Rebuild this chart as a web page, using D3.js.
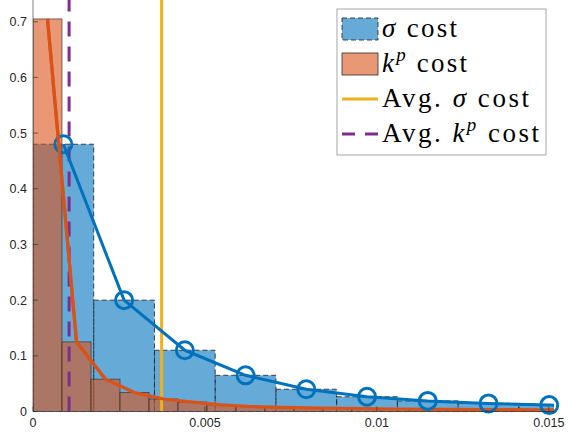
<!DOCTYPE html>
<html>
<head>
<meta charset="utf-8">
<script src="https://cdn.jsdelivr.net/npm/d3@7"></script>
<style>
  html, body { margin: 0; padding: 0; background: #fff; }
  svg { display: block; }
  .tick-label { font-family: "Liberation Sans", Arial, sans-serif; font-size: 12.5px; fill: #262626; }
  .legend-text { font-family: "Liberation Serif", "DejaVu Serif", serif; font-size: 27px; fill: #000; }
</style>
</head>
<body>
<svg id="chart" width="569" height="433"></svg>
<script>
// Histogram data (normalized probability)
const sigmaBinWidth = 0.001766;
const sigmaValues = [0.48, 0.2, 0.11, 0.065, 0.04, 0.0265, 0.019, 0.0145, 0.0115, 0.009];

const kpBinWidth = 0.000843;
const kpValues = [0.705, 0.125, 0.058, 0.034, 0.0225, 0.017, 0.012, 0.009, 0.0075, 0.0065,
  0.0058, 0.005, 0.0045, 0.004, 0.0038, 0.0035, 0.0033, 0.003, 0.003];

const avgSigma = 0.00374;
const avgKp = 0.00105;

const xTicks = [0, 0.005, 0.01, 0.015];
const xTickLabels = ['0', '0.005', '0.01', '0.015'];
const yTicks = [0, 0.1, 0.2, 0.3, 0.4, 0.5, 0.6, 0.7];
const yTickLabels = ['0', '0.1', '0.2', '0.3', '0.4', '0.5', '0.6', '0.7'];

// MATLAB default colors
const BLUE = '#0072BD';
const ORANGE = '#D95319';
const YELLOW = '#EDB120';
const PURPLE = '#7E2F8E';

const margin = { top: 0, left: 33, right: 15, bottom: 21.5 };
const svg = d3.select('#chart');
const W = +svg.attr('width');
const H = +svg.attr('height');

const x = d3.scaleLinear().domain([0, 0.01515]).range([margin.left, W - margin.right]);
const y = d3.scaleLinear().domain([0, 0.739]).range([H - margin.bottom, margin.top]);

svg.append('defs').append('clipPath').attr('id', 'plot-clip')
  .append('rect')
  .attr('x', x(0)).attr('y', y.range()[1])
  .attr('width', x.range()[1] - x(0))
  .attr('height', y(0) - y.range()[1]);

const plot = svg.append('g').attr('clip-path', 'url(#plot-clip)');

const sigmaBins = sigmaValues.map((v, i) => ({ x0: i * sigmaBinWidth, x1: (i + 1) * sigmaBinWidth, v }));
const kpBins = kpValues.map((v, i) => ({ x0: i * kpBinWidth, x1: (i + 1) * kpBinWidth, v }));

// sigma histogram (dashed edges)
plot.selectAll('.sigma-bar')
  .data(sigmaBins)
  .enter()
  .append('rect')
  .attr('class', 'sigma-bar')
  .attr('x', d => x(d.x0))
  .attr('y', d => y(d.v))
  .attr('width', d => x(d.x1) - x(d.x0))
  .attr('height', d => y(0) - y(d.v))
  .attr('fill', BLUE)
  .attr('fill-opacity', 0.6)
  .attr('stroke', '#1a1a1a')
  .attr('stroke-width', 0.8)
  .attr('stroke-dasharray', '5,3');

// kp histogram
plot.selectAll('.kp-bar')
  .data(kpBins)
  .enter()
  .append('rect')
  .attr('class', 'kp-bar')
  .attr('x', d => x(d.x0))
  .attr('y', d => y(d.v))
  .attr('width', d => x(d.x1) - x(d.x0))
  .attr('height', d => y(0) - y(d.v))
  .attr('fill', ORANGE)
  .attr('fill-opacity', 0.6)
  .attr('stroke', '#3a2a25')
  .attr('stroke-opacity', 0.8)
  .attr('stroke-width', 0.8);

// average lines
plot.append('line')
  .attr('x1', x(avgSigma)).attr('x2', x(avgSigma))
  .attr('y1', y(0)).attr('y2', y.range()[1])
  .attr('stroke', YELLOW).attr('stroke-width', 3);

plot.append('line')
  .attr('x1', x(avgKp)).attr('x2', x(avgKp))
  .attr('y1', y(0)).attr('y2', y.range()[1])
  .attr('stroke', PURPLE).attr('stroke-width', 3)
  .attr('stroke-dasharray', '15,10');

const line = d3.line().x(d => x((d.x0 + d.x1) / 2)).y(d => y(d.v));

plot.append('path')
  .datum(sigmaBins)
  .attr('d', line)
  .attr('fill', 'none')
  .attr('stroke', BLUE)
  .attr('stroke-width', 3)
  .attr('stroke-linejoin', 'round');

plot.append('path')
  .datum(kpBins)
  .attr('d', line)
  .attr('fill', 'none')
  .attr('stroke', ORANGE)
  .attr('stroke-width', 3.2)
  .attr('stroke-linejoin', 'round');

// circle markers (not clipped, only for points inside the limits)
svg.selectAll('.sigma-marker')
  .data(sigmaBins.filter(d => (d.x0 + d.x1) / 2 <= x.domain()[1]))
  .enter()
  .append('circle')
  .attr('class', 'sigma-marker')
  .attr('cx', d => x((d.x0 + d.x1) / 2))
  .attr('cy', d => y(d.v))
  .attr('r', 8.5)
  .attr('fill', 'none')
  .attr('stroke', BLUE)
  .attr('stroke-width', 3);

// redraw the orange line on top of the markers where they overlap
svg.append('path')
  .datum(kpBins.slice(0, 3))
  .attr('d', line)
  .attr('fill', 'none')
  .attr('stroke', ORANGE)
  .attr('stroke-width', 3.2)
  .attr('clip-path', 'url(#plot-clip)');

// axes
const axisColor = '#262626';
svg.append('line')
  .attr('x1', x(0)).attr('x2', x(0))
  .attr('y1', y(0)).attr('y2', y.range()[1])
  .attr('stroke', axisColor).attr('stroke-width', 0.6);
svg.append('line')
  .attr('x1', x(0)).attr('x2', x.range()[1])
  .attr('y1', y(0)).attr('y2', y(0))
  .attr('stroke', axisColor).attr('stroke-width', 0.6);

// inward ticks
svg.selectAll('.ytick')
  .data(yTicks)
  .enter()
  .append('line')
  .attr('x1', x(0)).attr('x2', x(0) + 5)
  .attr('y1', d => y(d)).attr('y2', d => y(d))
  .attr('stroke', axisColor).attr('stroke-width', 0.6);

svg.selectAll('.xtick')
  .data(xTicks)
  .enter()
  .append('line')
  .attr('x1', d => x(d)).attr('x2', d => x(d))
  .attr('y1', y(0)).attr('y2', y(0) - 5)
  .attr('stroke', axisColor).attr('stroke-width', 0.6);

svg.selectAll('.ylabel')
  .data(yTicks)
  .enter()
  .append('text')
  .attr('class', 'tick-label')
  .attr('x', x(0) - 6)
  .attr('y', d => y(d))
  .attr('dy', '0.36em')
  .attr('text-anchor', 'end')
  .text((d, i) => yTickLabels[i]);

svg.selectAll('.xlabel')
  .data(xTicks)
  .enter()
  .append('text')
  .attr('class', 'tick-label')
  .attr('x', d => x(d))
  .attr('y', y(0) + 15.5)
  .attr('text-anchor', 'middle')
  .text((d, i) => xTickLabels[i]);

// legend
const lg = svg.append('g').attr('transform', 'translate(337,9)');
lg.append('rect')
  .attr('x', 0).attr('y', 0).attr('width', 209).attr('height', 146)
  .attr('fill', '#fff').attr('stroke', '#a6a6a6').attr('stroke-width', 1);

const rowY = [20, 55, 90, 125];
const iconX = 5;
const iconW = 36;
const textX = 45;

lg.append('rect')
  .attr('x', iconX).attr('y', rowY[0] - 11).attr('width', iconW).attr('height', 22)
  .attr('fill', BLUE).attr('fill-opacity', 0.6)
  .attr('stroke', '#1a1a1a').attr('stroke-width', 0.8).attr('stroke-dasharray', '5,3');
lg.append('rect')
  .attr('x', iconX).attr('y', rowY[1] - 11).attr('width', iconW).attr('height', 22)
  .attr('fill', ORANGE).attr('fill-opacity', 0.6)
  .attr('stroke', '#3a2a25').attr('stroke-width', 0.8);
lg.append('line')
  .attr('x1', iconX).attr('x2', iconX + iconW).attr('y1', rowY[2]).attr('y2', rowY[2])
  .attr('stroke', YELLOW).attr('stroke-width', 3);
lg.append('line')
  .attr('x1', iconX).attr('x2', iconX + iconW).attr('y1', rowY[3]).attr('y2', rowY[3])
  .attr('stroke', PURPLE).attr('stroke-width', 3).attr('stroke-dasharray', '13,10');

// LaTeX (Computer Modern) text runs wider than Times, so fit to the measured widths
function legendText(row, parts, width) {
  const t = lg.append('text').attr('class', 'legend-text')
    .attr('x', textX).attr('y', rowY[row] + 8)
    .attr('textLength', width)
    .attr('lengthAdjust', 'spacing');
  parts.forEach(p => {
    const s = t.append('tspan').text(p.text);
    if (p.italic) s.attr('font-style', 'italic');
    if (p.sup) s.attr('font-size', '19px').attr('dy', '-11').attr('font-style', 'italic');
    if (p.down) s.attr('dy', '11');
  });
}

legendText(0, [{ text: 'σ', italic: true }, { text: ' cost' }], 75);
legendText(1, [{ text: 'k', italic: true }, { text: 'p', sup: true }, { text: ' cost', down: true }], 85);
legendText(2, [{ text: 'Avg. ' }, { text: 'σ', italic: true }, { text: ' cost' }], 147);
legendText(3, [{ text: 'Avg. ' }, { text: 'k', italic: true }, { text: 'p', sup: true }, { text: ' cost', down: true }], 157);
</script>
</body>
</html>
